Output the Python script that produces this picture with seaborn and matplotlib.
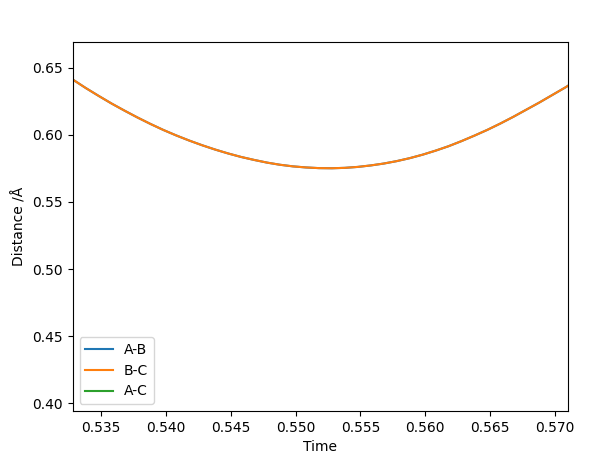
import pandas as pd
import matplotlib
matplotlib.use("Agg")
import matplotlib.pyplot as plt
import seaborn as sns

# Sampled times (same grid for A-B and B-C)
time = [0.5328, 0.5338, 0.5348, 0.5358, 0.5368, 0.5378, 0.5388, 0.5398, 0.5408, 0.5418,
        0.5428, 0.5438, 0.5448, 0.5458, 0.5468, 0.5478, 0.5488, 0.5498, 0.5508, 0.5518,
        0.5528, 0.5538, 0.5548, 0.5558, 0.5568, 0.5578, 0.5588, 0.5598, 0.5608, 0.5618,
        0.5628, 0.5638, 0.5648, 0.5658, 0.5668, 0.5678, 0.5688, 0.5698, 0.5708, 0.5710]

# A-B and B-C distances overlap exactly
dist_ab = [0.6412, 0.6349, 0.6290, 0.6233, 0.6180, 0.6129, 0.6081, 0.6036, 0.5995, 0.5957,
           0.5922, 0.5890, 0.5861, 0.5835, 0.5813, 0.5793, 0.5777, 0.5765, 0.5757, 0.5752,
           0.5751, 0.5754, 0.5761, 0.5772, 0.5786, 0.5804, 0.5826, 0.5852, 0.5882, 0.5915,
           0.5953, 0.5994, 0.6037, 0.6084, 0.6134, 0.6187, 0.6240, 0.6296, 0.6352, 0.6364]
dist_bc = list(dist_ab)

# A-C lies outside the shown range
time_ac = [0.5328, 0.5428, 0.5528, 0.5628, 0.5710]
dist_ac = [1.2824, 1.1844, 1.1502, 1.1906, 1.2766]

labels = ["A-B", "B-C", "A-C"]
colors = ["#1f77b4", "#ff7f0e", "#2ca02c"]

frames = [
    pd.DataFrame({"Time": time, "Distance": dist_ab, "Pair": "A-B"}),
    pd.DataFrame({"Time": time, "Distance": dist_bc, "Pair": "B-C"}),
    pd.DataFrame({"Time": time_ac, "Distance": dist_ac, "Pair": "A-C"}),
]
df = pd.concat(frames, ignore_index=True)

fig, ax = plt.subplots(figsize=(6.09, 4.62), dpi=100)
fig.subplots_adjust(left=0.1194, right=0.9322, top=0.9084, bottom=0.1104)

sns.lineplot(data=df, x="Time", y="Distance", hue="Pair", hue_order=labels,
             palette=colors, estimator=None, sort=False, linewidth=1.5, ax=ax)

ax.set_xlim(0.5328, 0.5710)
ax.set_ylim(0.3943, 0.6689)
ax.set_xlabel("Time")
ax.set_ylabel("Distance /Å")

handles, _ = ax.get_legend_handles_labels()
ax.legend(handles[-3:], labels, loc="lower left")

fig.savefig("out.png", dpi=100)
